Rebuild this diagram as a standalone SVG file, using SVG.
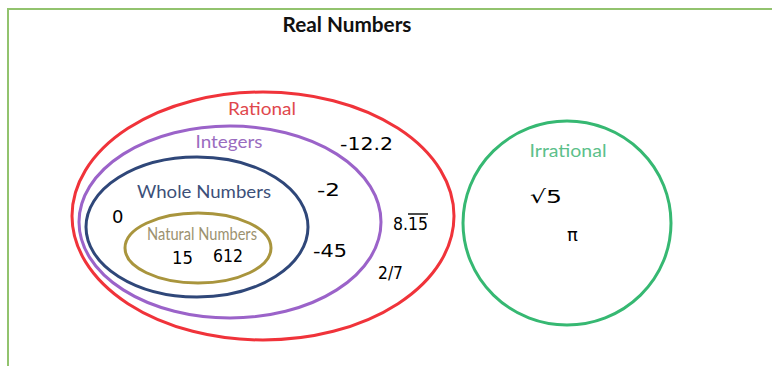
<svg xmlns="http://www.w3.org/2000/svg" width="772" height="366" viewBox="0 0 772 366">
  <style>
    .set { fill: none; stroke-width: 3; }
    .lbl { font-family: Lato, "Open Sans", "Liberation Sans", sans-serif; font-size: 17px; text-anchor: middle; }
    .hw { font-family: "DejaVu Sans", "Liberation Sans", sans-serif; font-size: 18px; fill: #000; }
  </style>
  <rect x="0" y="0" width="772" height="366" fill="#ffffff"/>
  <g id="real-numbers">
    <path d="M8 366 V9 H772" fill="none" stroke="#92c36e" stroke-width="2"/>
    <text x="347" y="32" font-family="Lato, 'Open Sans', 'Liberation Sans', sans-serif" font-size="20" font-weight="bold" text-anchor="middle" fill="#111" textLength="129" lengthAdjust="spacingAndGlyphs">Real Numbers</text>
  </g>
  <g id="rational">
    <ellipse class="set" cx="263" cy="216" rx="191" ry="124" stroke="#f0333a"/>
    <text class="lbl" x="262" y="115" fill="#e0474c" textLength="68" lengthAdjust="spacingAndGlyphs">Rational</text>
    <text class="hw" x="340" y="150" textLength="53" lengthAdjust="spacingAndGlyphs">-12.2</text>
    <text class="hw" x="393" y="230" textLength="35" lengthAdjust="spacingAndGlyphs">8.15</text>
    <line x1="408" y1="214" x2="428" y2="214" stroke="#000" stroke-width="1.4"/>
    <text class="hw" x="378" y="279" font-size="22" textLength="25" lengthAdjust="spacingAndGlyphs">2/7</text>
  </g>
  <g id="integers">
    <ellipse class="set" cx="230" cy="222" rx="151" ry="96" stroke="#9b63c9"/>
    <text class="lbl" x="229" y="148" fill="#9a6cc0" textLength="67" lengthAdjust="spacingAndGlyphs">Integers</text>
    <text class="hw" x="317" y="196" textLength="23" lengthAdjust="spacingAndGlyphs">-2</text>
    <text class="hw" x="313" y="257" textLength="34" lengthAdjust="spacingAndGlyphs">-45</text>
  </g>
  <g id="whole-numbers">
    <ellipse class="set" cx="197" cy="227" rx="111" ry="70" stroke="#2f4779"/>
    <text class="lbl" x="204" y="198" fill="#3d5079" textLength="134" lengthAdjust="spacingAndGlyphs">Whole Numbers</text>
    <text class="hw" x="112" y="223">0</text>
  </g>
  <g id="natural-numbers">
    <ellipse class="set" cx="198" cy="248" rx="73" ry="35" stroke="#a9953d"/>
    <text class="lbl" x="202" y="240" font-size="13" fill="#9c9270" textLength="110" lengthAdjust="spacingAndGlyphs">Natural Numbers</text>
    <text class="hw" x="172" y="264" textLength="21" lengthAdjust="spacingAndGlyphs">15</text>
    <text class="hw" x="213" y="262" textLength="30" lengthAdjust="spacingAndGlyphs">612</text>
  </g>
  <g id="irrational">
    <ellipse class="set" cx="567" cy="223" rx="104" ry="102" stroke="#36b872"/>
    <text class="lbl" x="568" y="157" fill="#5cc08a" textLength="77" lengthAdjust="spacingAndGlyphs">Irrational</text>
    <text class="hw" x="530" y="203" font-size="23" textLength="32" lengthAdjust="spacingAndGlyphs">√5</text>
    <text class="hw" x="567" y="241" font-size="22">π</text>
  </g>
  <g id="connectors"/>
</svg>
